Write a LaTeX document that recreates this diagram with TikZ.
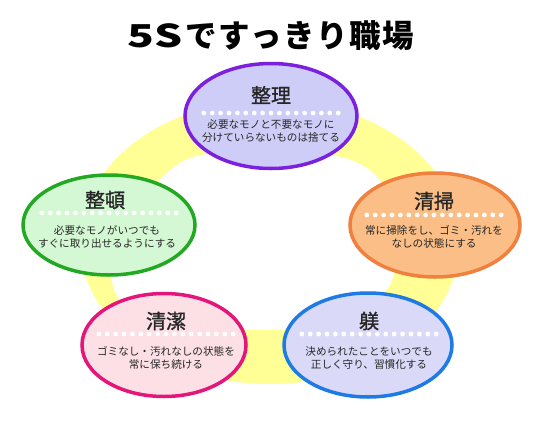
\documentclass[tikz,border=0pt]{standalone}
\usepackage{fontspec}
\setmainfont{Noto Sans CJK JP}
\newfontfamily\headfont{Noto Sans CJK JP}[FakeBold=1.2]
\usepackage{graphicx}
\usepackage{tikz}
\usetikzlibrary{shapes.geometric}

\definecolor{ringyellow}{RGB}{255,255,150}
\definecolor{seiriline}{RGB}{124,32,224}
\definecolor{seirifill}{RGB}{205,205,247}
\definecolor{seisoline}{RGB}{240,128,62}
\definecolor{seisofill}{RGB}{250,190,134}
\definecolor{seitonline}{RGB}{34,168,34}
\definecolor{seitonfill}{RGB}{212,248,212}
\definecolor{seiketsuline}{RGB}{228,22,122}
\definecolor{seiketsufill}{RGB}{252,224,230}
\definecolor{shitsukeline}{RGB}{30,122,228}
\definecolor{shitsukefill}{RGB}{218,218,248}

\tikzset{
  pill/.style={ellipse, draw, line width=3.5pt, inner sep=0pt},
  head/.style={font=\headfont\fontsize{20}{22}\selectfont, text=black!85},
  body/.style={font=\fontsize{10.6}{12.5}\selectfont, align=center, text=black!85},
  whitedot/.style={fill=white}
}

\begin{document}
\begin{tikzpicture}[x=1pt, y=-1pt]
  \useasboundingbox (0,0) rectangle (539,429);
  \fill[white] (0,0) rectangle (539,429);
  % === Nadpis ===
  \node[font=\fontsize{31.5}{34}\selectfont\bfseries] (title) at (271,36)
    {\scalebox{1.4}[1]{5S}\kern3pt{\addfontfeature{LetterSpace=5}ですっきり職場}};
  % === Zluty prstenec ===
  \fill[ringyellow, even odd rule] (270,242) ellipse [x radius=190, y radius=142]
    plot[smooth cycle] coordinates {(270,148) (345,158) (380,180) (398,230) (390,285)
      (345,322) (270,330) (200,325) (132,312) (112,282) (118,240) (150,190) (190,158)};
  % === Seiri ===
  \node[pill, seiriline, fill=seirifill, minimum width=172pt, minimum height=105pt] (seiri) at (271,116) {};
  \node[head] (seiri-t) at (271,95) {整理};
  \coordinate (seiri-d) at (271,113);
  \foreach \k in {-8,...,8}
    \fill[whitedot] ([xshift=\k*8.4pt]seiri-d) circle (2.4pt);
  \node[body] (seiri-b) at (271,131) {必要なモノと不要なモノに\\分けていらないものは捨てる};
  % === Seiso ===
  \node[pill, seisoline, fill=seisofill, minimum width=170pt, minimum height=104pt] (seiso) at (435,225) {};
  \node[head] (seiso-t) at (434,201) {清掃};
  \coordinate (seiso-d) at (434,215);
  \foreach \k in {-8,...,8}
    \fill[whitedot] ([xshift=\k*8.4pt]seiso-d) circle (2.4pt);
  \node[body] (seiso-b) at (434,237) {常に掃除をし、ゴミ・汚れを\\なしの状態にする};
  % === Seiton ===
  \node[pill, seitonline, fill=seitonfill, minimum width=172pt, minimum height=100pt] (seiton) at (109,225) {};
  \node[head] (seiton-t) at (105,200) {整頓};
  \coordinate (seiton-d) at (109,213);
  \foreach \k in {-8,...,8}
    \fill[whitedot] ([xshift=\k*8.4pt]seiton-d) circle (2.4pt);
  \node[body] (seiton-b) at (107,237) {必要なモノがいつでも\\すぐに取り出せるようにする};
  % === Seiketsu ===
  \node[pill, seiketsuline, fill=seiketsufill, minimum width=164pt, minimum height=103pt] (seiketsu) at (164,345) {};
  \node[head] (seiketsu-t) at (166,321) {清潔};
  \coordinate (seiketsu-d) at (166,334);
  \foreach \k in {-8,...,8}
    \fill[whitedot] ([xshift=\k*8.4pt]seiketsu-d) circle (2.4pt);
  \node[body] (seiketsu-b) at (166,358) {ゴミなし・汚れなしの状態を\\常に保ち続ける};
  % === Shitsuke ===
  \node[pill, shitsukeline, fill=shitsukefill, minimum width=168pt, minimum height=104pt] (shitsuke) at (368,345) {};
  \node[head] (shitsuke-t) at (369,321) {躾};
  \coordinate (shitsuke-d) at (369,334);
  \foreach \k in {-8,...,8}
    \fill[whitedot] ([xshift=\k*8.4pt]shitsuke-d) circle (2.4pt);
  \node[body] (shitsuke-b) at (369,358) {決められたことをいつでも\\正しく守り、習慣化する};
\end{tikzpicture}
\end{document}
